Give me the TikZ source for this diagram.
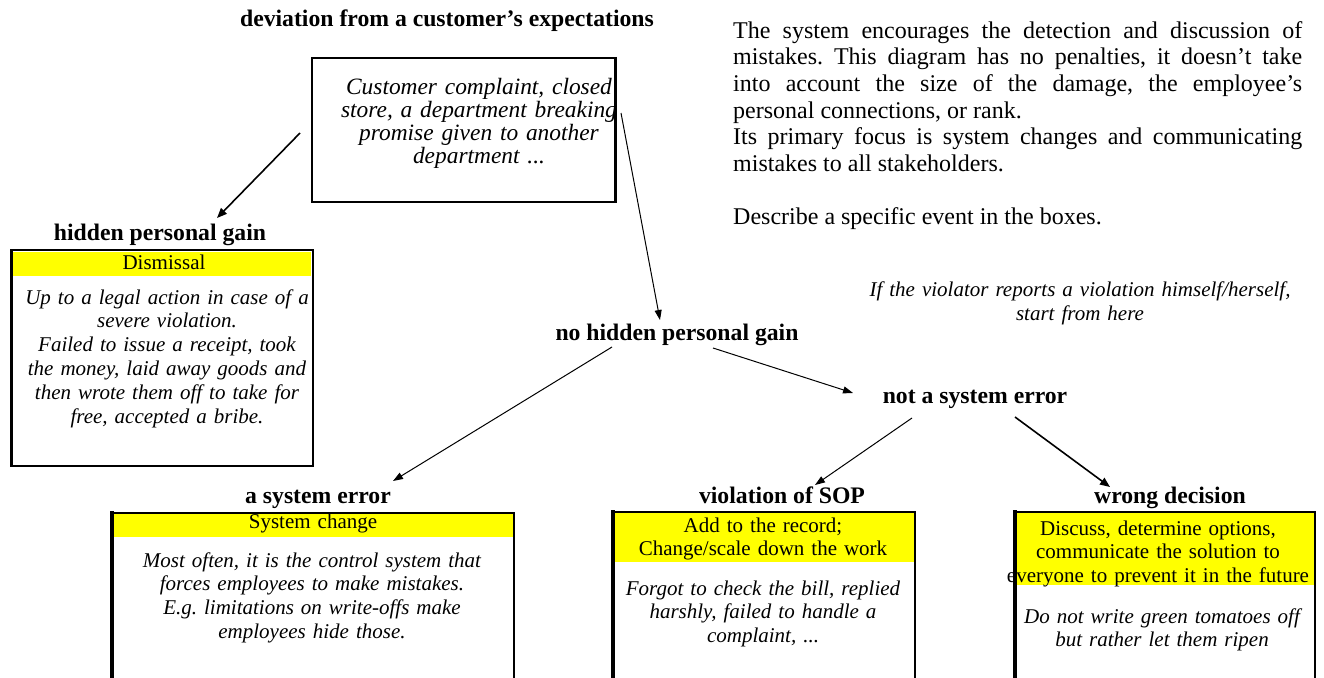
\documentclass[tikz,border=0pt]{standalone}
\usepackage{fontspec}
\setmainfont{Liberation Serif}
\usetikzlibrary{arrows.meta}
\definecolor{hl}{RGB}{255,255,0}
\frenchspacing
\tikzset{
  head/.style={font=\fontsize{23.7}{26}\selectfont\bfseries, anchor=base, inner sep=0pt},
  itbox/.style={font=\fontsize{21}{23.8}\selectfont\itshape, align=center, text width=#1, anchor=base, inner sep=0pt},
  upbox/.style={font=\fontsize{21}{23.5}\selectfont, align=center, text width=#1, anchor=base, inner sep=0pt},
  frame/.style={line width=2.2pt, line join=miter},
  band/.style={fill=hl, draw=none},
  arr/.style={line width=1pt, -{Triangle[length=10pt,width=7pt]}},
  arrb/.style={line width=1.6pt, -{Triangle[length=10pt,width=8pt]}}
}
\begin{document}
\begin{tikzpicture}[x=1pt,y=-1pt]
\clip (0,0) rectangle (1324,677);
\fill[white] (0,0) rectangle (1324,677);

% yellow bands
\fill[band] (13,252) rectangle (311,276);
\fill[band] (112,513) rectangle (514,537);
\fill[band] (613,512) rectangle (915,562);
\fill[band] (1015,512) rectangle (1315,585);

% frames
\draw[frame] (312,58) rectangle (615,202);
\draw[line width=3pt] (615,57) -- (615,203);
\draw[frame] (11,250) rectangle (313,466);
\draw[line width=3pt] (11,249) -- (11,467);
\draw[frame] (112,700) -- (112,513) -- (514,513) -- (514,700);
\draw[line width=3.4pt] (112,511) -- (112,700);
\draw[frame] (613,700) -- (613,512) -- (915,512) -- (915,700);
\draw[line width=3.4pt] (613,510) -- (613,700);
\draw[frame] (1015,700) -- (1015,512) -- (1315,512) -- (1315,700);
\draw[line width=3.4pt] (1015,510) -- (1015,700);

% headings
\node[head] (dev) at (447,27) {deviation from a customer’s expectations};
\node[head] (hid) at (160,240) {hidden personal gain};
\node[head] (nohid) at (677,340) {no hidden personal gain};
\node[head] (notsys) at (975,403) {not a system error};
\node[head] (syserr) at (318,503) {a system error};
\node[head] (sop) at (782,503) {violation of SOP};
\node[head] (wrong) at (1170,503) {wrong decision};

% top box text
\node[itbox=300pt, font=\fontsize{23.4}{23}\selectfont\itshape] (topt) at (479,94)
  {Customer complaint, closed\\ store, a department breaking\\ promise given to another\\ department ...};

% hidden box
\node[upbox=290pt] (dism) at (164,269) {Dismissal};
\node[itbox=300pt] (hidt) at (167,304)
  {Up to a legal action in case of a\\ severe violation.\\ Failed to issue a receipt, took\\ the money, laid away goods and\\ then wrote them off to take for\\ free, accepted a bribe.};

% bottom box 1
\node[upbox=390pt] (sysch) at (313,528) {System change};
\node[itbox=390pt] (syst) at (312,567)
  {Most often, it is the control system that\\ forces employees to make mistakes.\\ E.g. limitations on write-offs make\\ employees hide those.};

% bottom box 2
\node[upbox=300pt] (sopy) at (763,532) {Add to the record;\\ Change/scale down the work};
\node[itbox=300pt, font=\fontsize{21}{23.5}\selectfont\itshape] (sopt) at (763,595)
  {Forgot to check the bill, replied\\ harshly, failed to handle a\\ complaint, ...};

% bottom box 3
\node[upbox=320pt] (wry) at (1158,535) {Discuss, determine options,\\ communicate the solution to\\ everyone to prevent it in the future};
\node[itbox=300pt] (wrt) at (1162,623) {Do not write green tomatoes off\\ but rather let them ripen};

% right text
\node[font=\fontsize{24}{26.7}\selectfont, text width=569pt, align=justify, anchor=base west, inner sep=0pt] (desc) at (733,38)
  {The system encourages the detection and discussion of\linebreak
   mistakes. This diagram has no penalties, it doesn’t take\linebreak
   into account the size of the damage, the employee’s\linebreak
   personal connections, or rank.\par
   Its primary focus is system changes and communicating\linebreak
   mistakes to all stakeholders.\par\vspace{26.7pt}
   Describe a specific event in the boxes.};

\node[itbox=440pt, font=\fontsize{21}{24}\selectfont\itshape] (note) at (1080,296)
  {If the violator reports a violation himself/herself,\\ start from here};

% connectors
\coordinate (a1s) at (300,133); \coordinate (a1e) at (217,218);
\coordinate (a2s) at (621,113); \coordinate (a2e) at (660,320);
\coordinate (a3s) at (612,347); \coordinate (a3e) at (393,481);
\coordinate (a4s) at (713,348); \coordinate (a4e) at (853,393);
\coordinate (a5s) at (912,418); \coordinate (a5e) at (815,485);
\coordinate (a6s) at (1015,417); \coordinate (a6e) at (1110,487);
\draw[arrb] (a1s) -- (a1e);
\draw[arr] (a2s) -- (a2e);
\draw[arr] (a3s) -- (a3e);
\draw[arr] (a4s) -- (a4e);
\draw[arr] (a5s) -- (a5e);
\draw[arrb] (a6s) -- (a6e);
\end{tikzpicture}
\end{document}
